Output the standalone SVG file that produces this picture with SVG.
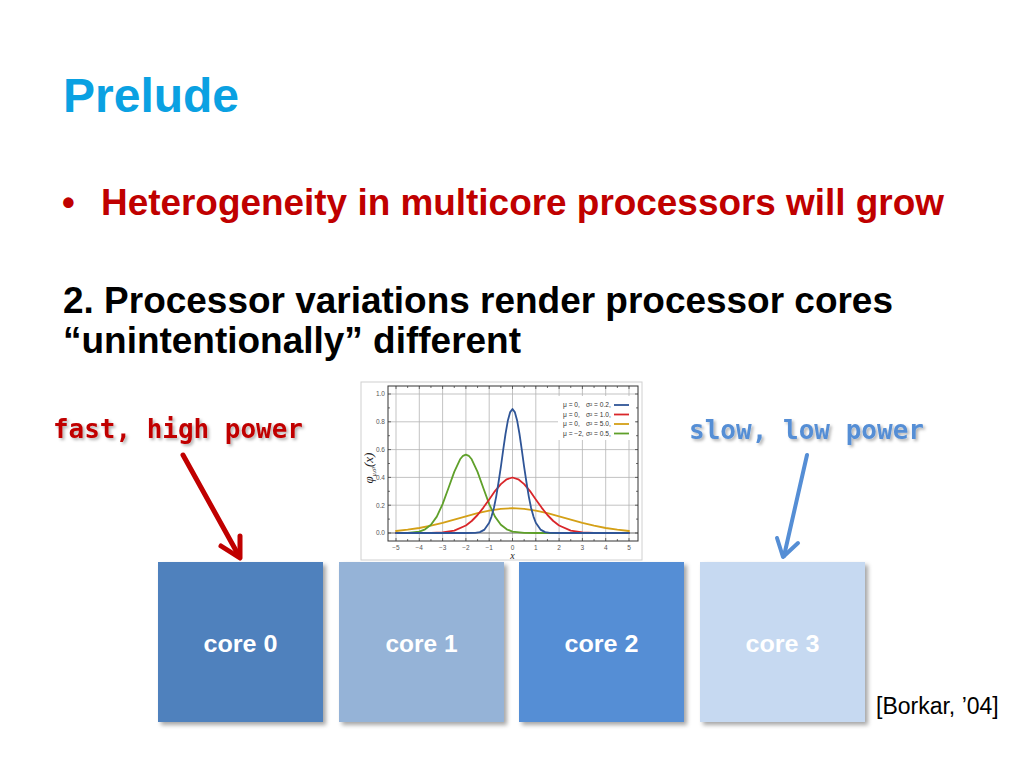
<svg xmlns="http://www.w3.org/2000/svg" width="1024" height="768" viewBox="0 0 1024 768">
<defs>
<style>
.title{font-family:"Liberation Sans",Arial,sans-serif;font-weight:bold;font-size:48px;fill:#0aa1e2}
.body{font-family:"Liberation Sans",Arial,sans-serif;font-weight:bold;font-size:36.5px}
.comic{font-family:"DejaVu Sans Mono",monospace;font-weight:bold;font-size:27px}
.core{font-family:"Liberation Sans",Arial,sans-serif;font-weight:bold;font-size:24px;fill:#ffffff;text-anchor:middle}
.tick{font-family:"Liberation Sans",Arial,sans-serif;font-size:6.5px;fill:#555}
.leg{font-family:"Liberation Sans",Arial,sans-serif;font-size:6.6px;fill:#333}
.grid{stroke:#b4b4b4;stroke-width:0.8;fill:none}
.curve{fill:none;stroke-width:1.8;stroke-linejoin:round;stroke-linecap:round}
.box{filter:url(#sh)}
</style>
<filter id="sh" x="-10%" y="-10%" width="130%" height="130%">
<feDropShadow dx="3" dy="3" stdDeviation="2" flood-color="#000" flood-opacity="0.35"/>
</filter>
<filter id="tsh" x="-10%" y="-30%" width="120%" height="160%">
<feDropShadow dx="2" dy="2" stdDeviation="1.5" flood-color="#000" flood-opacity="0.3"/>
</filter>
</defs>
<rect width="1024" height="768" fill="#ffffff"/>

<text class="title" x="63" y="112">Prelude</text>
<text class="body" x="62" y="215" fill="#c00000">•</text>
<text class="body" x="101" y="215" fill="#c00000" textLength="843" lengthAdjust="spacingAndGlyphs">Heterogeneity in multicore processors will grow</text>
<text class="body" x="63" y="313" fill="#000" textLength="830" lengthAdjust="spacingAndGlyphs">2. Processor variations render processor cores</text>
<text class="body" x="63" y="353" fill="#000" textLength="458" lengthAdjust="spacingAndGlyphs">“unintentionally” different</text>

<!-- chart -->
<g id="chart">
<rect x="361" y="382" width="281" height="178" fill="#fff" stroke="#d0d0d0" stroke-width="1"/>
<g class="grid">
<path d="M396 386V541M419.3 386V541M442.6 386V541M465.9 386V541M489.2 386V541M512.5 386V541M535.8 386V541M559.1 386V541M582.4 386V541M605.7 386V541M629 386V541"/>
<path d="M388 394H638M388 421.8H638M388 449.6H638M388 477.4H638M388 505.2H638"/>
</g>
<path d="M388 533H638" stroke="#555" stroke-width="0.9"/>
<rect x="558" y="396" width="78" height="44" fill="#fff"/>
<rect x="388" y="386" width="250" height="155" fill="none" stroke="#333" stroke-width="1"/>
<path d="M396 541v-3M407.65 541v-2M419.3 541v-3M430.95 541v-2M442.6 541v-3M454.25 541v-2M465.9 541v-3M477.55 541v-2M489.2 541v-3M500.85 541v-2M512.5 541v-3M524.15 541v-2M535.8 541v-3M547.45 541v-2M559.1 541v-3M570.75 541v-2M582.4 541v-3M594.05 541v-2M605.7 541v-3M617.35 541v-2M629 541v-3
M396 386v3M407.65 386v2M419.3 386v3M430.95 386v2M442.6 386v3M454.25 386v2M465.9 386v3M477.55 386v2M489.2 386v3M500.85 386v2M512.5 386v3M524.15 386v2M535.8 386v3M547.45 386v2M559.1 386v3M570.75 386v2M582.4 386v3M594.05 386v2M605.7 386v3M617.35 386v2M629 386v3
M388 533h3M388 519.1h2M388 505.2h3M388 491.3h2M388 477.4h3M388 463.5h2M388 449.6h3M388 435.7h2M388 421.8h3M388 407.9h2M388 394h3
M638 533h-3M638 519.1h-2M638 505.2h-3M638 491.3h-2M638 477.4h-3M638 463.5h-2M638 449.6h-3M638 435.7h-2M638 421.8h-3M638 407.9h-2M638 394h-3" stroke="#333" stroke-width="0.7" fill="none"/>
<g class="tick" text-anchor="end">
<text x="385" y="396">1.0</text><text x="385" y="424">0.8</text><text x="385" y="452">0.6</text><text x="385" y="479.5">0.4</text><text x="385" y="507.5">0.2</text><text x="385" y="535">0.0</text>
</g>
<g class="tick" text-anchor="middle">
<text x="396" y="549.5">−5</text><text x="419.3" y="549.5">−4</text><text x="442.6" y="549.5">−3</text><text x="465.9" y="549.5">−2</text><text x="489.2" y="549.5">−1</text><text x="512.5" y="549.5">0</text><text x="535.8" y="549.5">1</text><text x="559.1" y="549.5">2</text><text x="582.4" y="549.5">3</text><text x="605.7" y="549.5">4</text><text x="629" y="549.5">5</text>
</g>
<text x="512.5" y="559" font-family="Liberation Serif,serif" font-style="italic" font-size="10" text-anchor="middle" fill="#222">x</text>
<text transform="translate(373 468) rotate(-90)" font-family="Liberation Serif,serif" font-style="italic" font-size="13" text-anchor="middle" fill="#222">φ<tspan font-size="6" dy="3">μ,σ²</tspan><tspan dy="-3">(x)</tspan></text>
<!-- curves -->
<polyline class="curve" stroke="#d4a017" points="396,531 407.65,529.7 419.3,528 430.95,525.7 442.6,522.9 454.25,519.7 465.9,516.4 477.55,513.2 489.2,510.6 500.85,508.8 512.5,508.2 524.15,508.8 535.8,510.6 547.45,513.2 559.1,516.4 570.75,519.7 582.4,522.9 594.05,525.7 605.7,528 617.35,529.7 629,531"/>
<polyline class="curve" stroke="#5fa02a" points="396,533 407.65,532.9 419.3,531.6 425.1,529.3 430.95,524.7 436.8,516.6 442.6,504.1 448.4,488.3 454.25,471.9 460.1,459.3 463,455.8 465.9,454.6 468.8,455.8 471.7,459.3 477.55,471.9 483.4,488.3 489.2,504.1 495,516.6 500.85,524.7 506.7,529.3 512.5,531.6 524.15,532.9 535.8,533 629,533"/>
<polyline class="curve" stroke="#d9262a" points="396,533 430.95,532.9 442.6,532.4 454.25,530.6 465.9,525.5 471.7,521 477.55,515 483.4,507.6 489.2,499.4 495,491.1 500.85,484.1 506.7,479.3 512.5,477.5 518.3,479.3 524.15,484.1 530,491.1 535.8,499.4 541.6,507.6 547.45,515 553.3,521 559.1,525.5 570.75,530.6 582.4,532.4 594.05,532.9 629,533"/>
<polyline class="curve" stroke="#2f5597" points="396,533 465.9,533 475.2,532.8 479.9,532.1 484.5,529.6 489.2,522.8 491.5,516.6 493.9,508 496.2,496.6 498.5,482.5 500.9,466.7 503.2,449.9 505.5,434 507.8,420.8 510.2,412.1 512.5,409 514.8,412.1 517.2,420.8 519.5,434 521.8,449.9 524.1,466.7 526.5,482.5 528.8,496.6 531.1,508 533.5,516.6 535.8,522.8 540.5,529.6 545.1,532.1 549.8,532.8 559.1,533 629,533"/>
<!-- legend -->
<g class="leg">
<text x="563" y="407">μ = 0,</text><text x="586" y="407">σ² = 0.2,</text>
<text x="563" y="416.5">μ = 0,</text><text x="586" y="416.5">σ² = 1.0,</text>
<text x="563" y="426">μ = 0,</text><text x="586" y="426">σ² = 5.0,</text>
<text x="563" y="435.5">μ = −2,</text><text x="586" y="435.5">σ² = 0.5,</text>
</g>
<path d="M614 405h15" stroke="#2f5597" stroke-width="1.8"/>
<path d="M614 414.5h15" stroke="#d9262a" stroke-width="1.8"/>
<path d="M614 424h15" stroke="#d4a017" stroke-width="1.8"/>
<path d="M614 433.5h15" stroke="#5fa02a" stroke-width="1.8"/>
</g>

<!-- labels -->
<g id="label-fast" filter="url(#tsh)">
<text class="comic" x="53" y="438" fill="#c00000" textLength="250" lengthAdjust="spacingAndGlyphs">fast, high power</text>
</g>
<g id="label-slow" filter="url(#tsh)">
<text class="comic" x="689" y="439" fill="#558ed5" textLength="235" lengthAdjust="spacingAndGlyphs">slow, low power</text>
</g>

<!-- cores -->
<g id="core0"><rect class="box" x="158" y="562" width="165" height="160" fill="#4f81bd"/><text class="core" x="240.5" y="652" textLength="74" lengthAdjust="spacingAndGlyphs">core 0</text></g>
<g id="core1"><rect class="box" x="339" y="562" width="165" height="160" fill="#95b3d7"/><text class="core" x="421.5" y="652" textLength="72" lengthAdjust="spacingAndGlyphs">core 1</text></g>
<g id="core2"><rect class="box" x="519" y="562" width="165" height="160" fill="#558ed5"/><text class="core" x="601.5" y="652" textLength="74" lengthAdjust="spacingAndGlyphs">core 2</text></g>
<g id="core3"><rect class="box" x="700" y="562" width="165" height="160" fill="#c6d9f1"/><text class="core" x="782.5" y="652" textLength="74" lengthAdjust="spacingAndGlyphs">core 3</text></g>

<!-- connectors -->
<g id="connectors" fill="none" stroke-linecap="round" stroke-linejoin="round">
<path d="M183 455L239 556" stroke="#c00000" stroke-width="5"/>
<path d="M221 546L240 558L240 536" stroke="#c00000" stroke-width="5"/>
<path d="M807 455L784 556" stroke="#558ed5" stroke-width="4"/>
<path d="M777 538L783 557L798 543" stroke="#558ed5" stroke-width="4"/>
</g>

<text x="876" y="714" font-family="Liberation Sans,Arial,sans-serif" font-size="23" fill="#000">[Borkar, ’04]</text>
</svg>
